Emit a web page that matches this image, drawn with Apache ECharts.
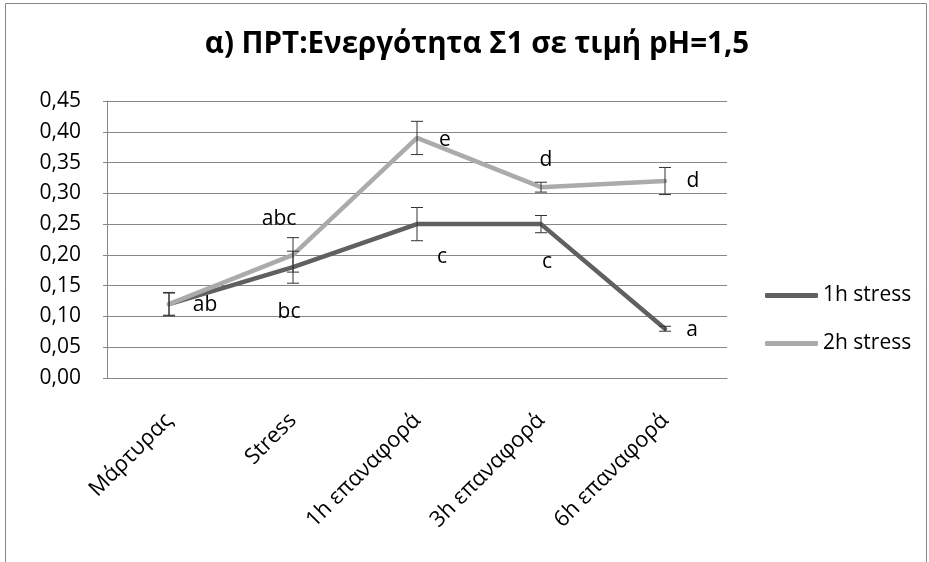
<!DOCTYPE html>
<html>
<head>
<meta charset="utf-8">
<script src="https://cdn.jsdelivr.net/npm/echarts@6/dist/echarts.min.js"></script>
<style>
html,body{margin:0;padding:0;background:#fff;}
#c{width:929px;height:562px;}
</style>
</head>
<body>
<div id="c"></div>
<script>
const categories = ['Μάρτυρας', 'Stress', '1h επαναφορά', '3h επαναφορά', '6h επαναφορά'];
const stress1h = [0.12, 0.18, 0.25, 0.25, 0.08];
const stress2h = [0.12, 0.20, 0.39, 0.31, 0.32];
const err1h = [0.019, 0.026, 0.027, 0.014, 0.004];
const err2h = [0.018, 0.028, 0.027, 0.008, 0.022];
const letters1h = ['ab', 'bc', 'c', 'c', 'a'];
const letters2h = ['', 'abc', 'e', 'd', 'd'];
const yTicks = [0, 0.05, 0.10, 0.15, 0.20, 0.25, 0.30, 0.35, 0.40, 0.45];

const off1h = [[36, 1], [-4, 45], [25, 33], [6, 38], [27, 1]];
const off2h = [[0, 0], [-14, -36], [28, 2], [5, -27], [28, 0]];

const FONT = 'Open Sans';
const FS = 21;
const DARK = '#606060';
const LIGHT = '#ababab';
const GRID = '#878787';

function lineData(vals, letters, offs) {
  return vals.map((v, i) => ({
    value: v,
    label: {
      show: letters[i] !== '',
      formatter: letters[i],
      position: 'inside',
      offset: offs[i],
      color: '#000',
      fontSize: FS,
      fontFamily: FONT
    }
  }));
}

function errData(vals, errs) {
  return vals.map((v, i) => [i, v, errs[i]]);
}

function renderErr(params, api) {
  const x = api.value(0), v = api.value(1), e = api.value(2);
  const top = api.coord([x, v + e]);
  const bot = api.coord([x, v - e]);
  const hw = 6;
  const style = {stroke: '#333', lineWidth: 1};
  return {
    type: 'group',
    children: [
      {type: 'line', shape: {x1: top[0], y1: top[1], x2: bot[0], y2: bot[1]}, style},
      {type: 'line', shape: {x1: top[0] - hw, y1: top[1], x2: top[0] + hw, y2: top[1]}, style},
      {type: 'line', shape: {x1: bot[0] - hw, y1: bot[1], x2: bot[0] + hw, y2: bot[1]}, style}
    ]
  };
}

const chart = echarts.init(document.getElementById('c'), null, {renderer: 'canvas'});
chart.setOption({
  animation: false,
  backgroundColor: '#fff',
  textStyle: {fontFamily: FONT},
  title: {
    text: 'α) ΠΡΤ:Ενεργότητα Σ1 σε τιμή pH=1,5',
    left: 472,
    textAlign: 'center',
    top: 25,
    textStyle: {fontFamily: FONT, fontSize: 29.5, fontWeight: 'bold', color: '#000'}
  },
  graphic: [{
    type: 'rect',
    shape: {x: 5.5, y: 3.5, width: 921, height: 600},
    style: {fill: 'none', stroke: '#888', lineWidth: 1},
    silent: true
  }],
  legend: {
    orient: 'vertical',
    left: 765,
    top: 285,
    padding: 0,
    itemWidth: 53,
    itemHeight: 5,
    itemGap: 27,
    icon: 'roundRect',
    textStyle: {fontFamily: FONT, fontSize: FS, color: '#000', padding: [0, 0, 0, 0]},
    data: [
      {name: '1h stress', itemStyle: {color: DARK, opacity: 1}},
      {name: '2h stress', itemStyle: {color: LIGHT, opacity: 1}}
    ]
  },
  grid: {left: 107, right: 202, top: 101, bottom: 184},
  xAxis: {
    type: 'category',
    data: categories,
    boundaryGap: true,
    axisLine: {show: true, lineStyle: {color: GRID, width: 1}},
    axisTick: {show: false},
    axisLabel: {rotate: 45, margin: 39, fontSize: 22, fontFamily: FONT, color: '#000', interval: 0}
  },
  yAxis: {
    type: 'value',
    min: yTicks[0],
    max: yTicks[yTicks.length - 1],
    interval: 0.05,
    axisLine: {show: true, lineStyle: {color: GRID, width: 1}},
    axisTick: {show: true, length: 4, lineStyle: {color: GRID}},
    splitLine: {show: true, lineStyle: {color: GRID, width: 1}},
    axisLabel: {
      margin: 26,
      fontSize: FS,
      fontFamily: FONT,
      color: '#000',
      formatter: v => v.toFixed(2).replace('.', ',')
    }
  },
  series: [
    {
      name: '1h stress',
      type: 'line',
      data: lineData(stress1h, letters1h, off1h),
      color: DARK,
      lineStyle: {width: 4.5, color: DARK, cap: 'round'},
      symbol: 'circle',
      symbolSize: 0.01,
      itemStyle: {color: DARK},
      z: 2
    },
    {
      name: '2h stress',
      type: 'line',
      data: lineData(stress2h, letters2h, off2h),
      color: LIGHT,
      lineStyle: {width: 4.5, color: LIGHT, cap: 'round'},
      symbol: 'circle',
      symbolSize: 0.01,
      itemStyle: {color: LIGHT},
      z: 3
    },
    {
      name: 'err1h',
      type: 'custom',
      renderItem: renderErr,
      data: errData(stress1h, err1h),
      encode: {x: 0, y: 1},
      z: 4,
      silent: true
    },
    {
      name: 'err2h',
      type: 'custom',
      renderItem: renderErr,
      data: errData(stress2h, err2h),
      encode: {x: 0, y: 1},
      z: 4,
      silent: true
    }
  ]
});
</script>
</body>
</html>
